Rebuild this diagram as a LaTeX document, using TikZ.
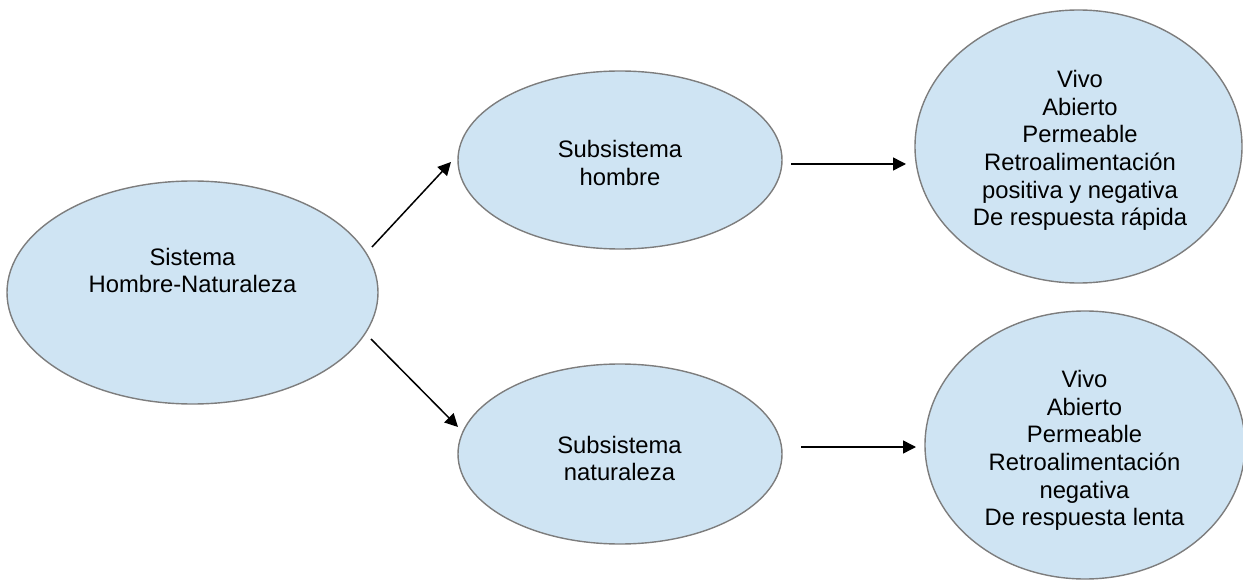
\documentclass[tikz,border=0pt]{standalone}
\usepackage{fontspec}
\setmainfont{Liberation Sans}
\usetikzlibrary{shapes.geometric,arrows.meta}

\definecolor{bubblefill}{RGB}{207,228,243}
\definecolor{bubbleline}{RGB}{125,125,125}

\tikzset{
  bubble/.style={ellipse, draw=bubbleline, fill=bubblefill, line width=1.4pt,
                 inner sep=0pt, outer sep=0pt},
  caption/.style={align=center, inner sep=0pt, outer sep=0pt,
                  font=\fontsize{23.8}{27.7}\selectfont},
  arr/.style={-{Triangle[length=13pt,width=13pt]}, line width=1.5pt, black}
}

\begin{document}
\begin{tikzpicture}[x=1pt, y=-1pt]
  \useasboundingbox (0,0) rectangle (1243,580);

  % ellipses
  \node[bubble, minimum width=371pt, minimum height=223pt] (sys) at (192.5,292.5) {};
  \node[bubble, minimum width=324pt, minimum height=178pt] (hom) at (620,160) {};
  \node[bubble, minimum width=324pt, minimum height=180pt] (nat) at (620,454) {};
  \node[bubble, minimum width=327pt, minimum height=273pt] (homp) at (1078.5,146.5) {};
  \node[bubble, minimum width=320pt, minimum height=268pt] (natp) at (1085,445) {};

  % labels
  \node[caption] (sysT) at (192.5,270.5) {Sistema\\Hombre-Naturaleza};
  \node[caption] (homT) at (620,163.3) {Subsistema\\hombre};
  \node[caption] (natT) at (619.5,458.5) {Subsistema\\naturaleza};
  \node[caption] (hompT) at (1080,150.5)
    {Vivo\\Abierto\\Permeable\\Retroalimentación\\positiva y negativa\\De respuesta rápida};
  \node[caption] (natpT) at (1084.5,450.5)
    {Vivo\\Abierto\\Permeable\\Retroalimentación\\negativa\\De respuesta lenta};

  % start points of the horizontal connectors
  \coordinate (homOut) at ([shift={(9,4)}]hom.east);
  \coordinate (natOut) at ([shift={(19,-7)}]nat.east);

  % connectors
  \draw[arr] ([shift={(-6,-45.5)}]sys.east) -- ([shift={(-7,2)}]hom.west);
  \draw[arr] ([shift={(-7,46.5)}]sys.east) -- ([shift={(0,-27)}]nat.west);
  \draw[arr] (homOut) -- ([shift={(-9,0)}]homp.west |- homOut);
  \draw[arr] (natOut) -- ([shift={(-9,0)}]natp.west |- natOut);
\end{tikzpicture}
\end{document}
